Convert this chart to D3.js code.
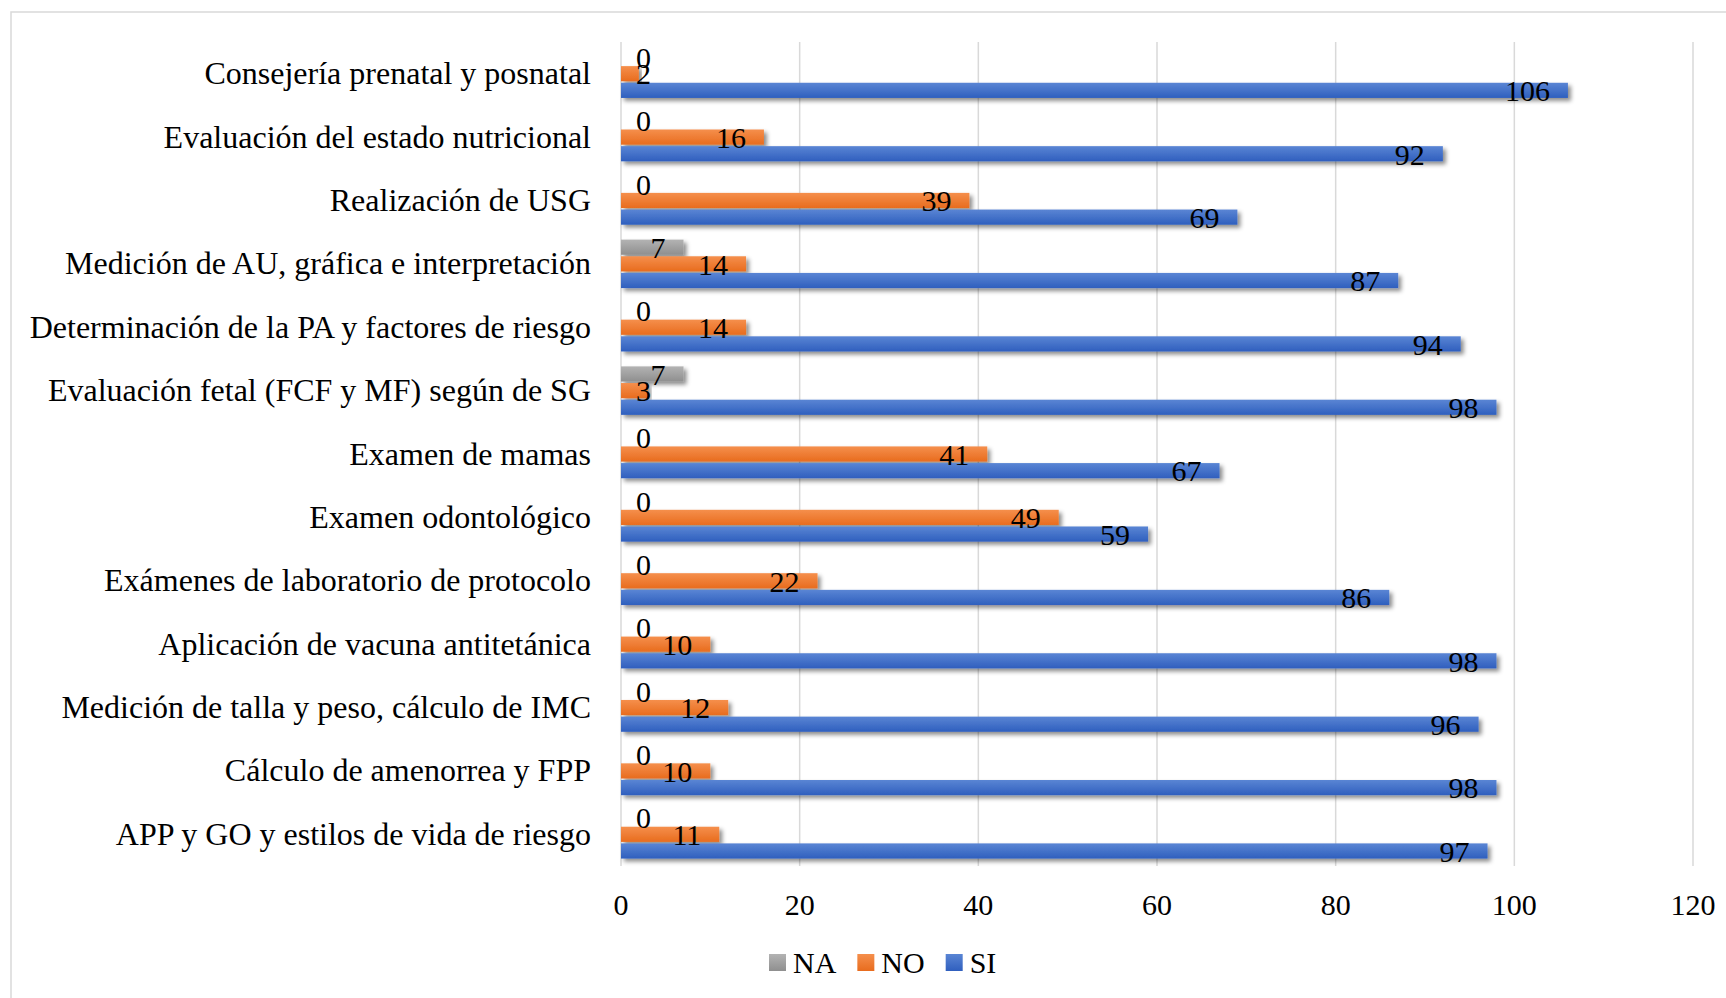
<!DOCTYPE html>
<html>
<head>
<meta charset="utf-8">
<script src="https://cdn.jsdelivr.net/npm/d3@7"></script>
<style>
  body { margin: 0; background: #fff; }
  svg text { font-family: "Liberation Serif", "Times New Roman", serif; fill: #000; }
</style>
</head>
<body>
<svg id="chart" width="1726" height="998"></svg>
<script>
const categories = [
  "Consejería prenatal y posnatal",
  "Evaluación del estado nutricional",
  "Realización de USG",
  "Medición de AU, gráfica e interpretación",
  "Determinación de la PA y factores de riesgo",
  "Evaluación fetal (FCF y MF) según de SG",
  "Examen de mamas",
  "Examen odontológico",
  "Exámenes de laboratorio de protocolo",
  "Aplicación de vacuna antitetánica",
  "Medición de talla y peso, cálculo de IMC",
  "Cálculo de amenorrea y FPP",
  "APP y GO y estilos de vida de riesgo"
];
const seriesNames = ["NA", "NO", "SI"];
const naValues = [0, 0, 0, 7, 0, 7, 0, 0, 0, 0, 0, 0, 0];
const noValues = [2, 16, 39, 14, 14, 3, 41, 49, 22, 10, 12, 10, 11];
const siValues = [106, 92, 69, 87, 94, 98, 67, 59, 86, 98, 96, 98, 97];
const xTicks = [0, 20, 40, 60, 80, 100, 120];

const seriesValues = { NA: naValues, NO: noValues, SI: siValues };
// gradient stops: top colour, bottom colour
const colors = {
  NA: ["#b3b3b3", "#8f8f8f"],
  NO: ["#f58f4c", "#e86c1e"],
  SI: ["#5a85d4", "#2f5fbe"]
};

const svg = d3.select("#chart");
const defs = svg.append("defs");

seriesNames.forEach(s => {
  let g = defs.append("linearGradient")
    .attr("id", "grad-" + s)
    .attr("x1", 0).attr("y1", 0).attr("x2", 0).attr("y2", 1);
  g.append("stop").attr("offset", "0%").attr("stop-color", colors[s][0]);
  g.append("stop").attr("offset", "100%").attr("stop-color", colors[s][1]);
});

let shadow = defs.append("filter").attr("id", "shadow")
  .attr("x", "-5%").attr("y", "-40%").attr("width", "120%").attr("height", "200%");
shadow.append("feDropShadow")
  .attr("dx", 3).attr("dy", 3).attr("stdDeviation", 2.2)
  .attr("flood-color", "#000").attr("flood-opacity", 0.45);

// chart border
svg.append("rect")
  .attr("x", 11).attr("y", 12)
  .attr("width", 1730).attr("height", 1000)
  .attr("fill", "none")
  .attr("stroke", "#d9d9d9")
  .attr("stroke-width", 1.5);

const plot = { left: 621, right: 1693, top: 42, bottom: 866 };

let x = d3.scaleLinear().domain([0, 120]).range([plot.left, plot.right]);

let y0 = d3.scaleBand()
  .domain(categories)
  .range([plot.top, plot.bottom])
  .paddingInner(0.235)
  .paddingOuter(0.1175);

let y1 = d3.scaleBand()
  .domain(seriesNames)
  .range([0, y0.bandwidth()])
  .paddingInner(0.09);

// gridlines
svg.append("g")
  .selectAll("line")
  .data(xTicks)
  .join("line")
  .attr("x1", d => x(d)).attr("x2", d => x(d))
  .attr("y1", plot.top).attr("y2", plot.bottom)
  .attr("stroke", "#d9d9d9")
  .attr("stroke-width", 1.5);

// x axis tick labels
svg.append("g")
  .selectAll("text")
  .data(xTicks)
  .join("text")
  .attr("x", d => x(d))
  .attr("y", 915)
  .attr("text-anchor", "middle")
  .style("font-size", "30px")
  .text(d => d);

// category labels
svg.append("g")
  .selectAll("text")
  .data(categories)
  .join("text")
  .attr("x", 591)
  .attr("y", d => y0(d) + y0.bandwidth() / 2)
  .attr("dy", "0.33em")
  .attr("text-anchor", "end")
  .style("font-size", "32px")
  .text(d => d);

let barData = [];
categories.forEach((c, i) => {
  seriesNames.forEach(s => {
    barData.push({ cat: c, series: s, value: seriesValues[s][i] });
  });
});

// bars
svg.append("g")
  .selectAll("rect")
  .data(barData.filter(d => d.value > 0))
  .join("rect")
  .attr("x", x(0))
  .attr("y", d => y0(d.cat) + y1(d.series))
  .attr("width", d => x(d.value) - x(0))
  .attr("height", y1.bandwidth())
  .attr("fill", d => "url(#grad-" + d.series + ")")
  .attr("filter", "url(#shadow)");

// data labels (inside end, clamped near the axis for short bars)
let labels = svg.append("g")
  .selectAll("text")
  .data(barData)
  .join("text")
  .attr("y", d => y0(d.cat) + y1(d.series) + y1.bandwidth() / 2)
  .attr("dy", "0.36em")
  .attr("text-anchor", "start")
  .style("font-size", "30px")
  .text(d => d.value);

labels.each(function(d) {
  let w = this.getComputedTextLength();
  let left = x(d.value) - 18 - w;
  let minLeft = x(0) + 15;
  d3.select(this).attr("x", Math.max(left, minLeft));
});

// legend
let legend = svg.append("g").attr("transform", "translate(769,954)");
let lx = 0;
seriesNames.forEach(s => {
  legend.append("rect")
    .attr("x", lx).attr("y", 0)
    .attr("width", 17).attr("height", 17)
    .attr("fill", "url(#grad-" + s + ")");
  let t = legend.append("text")
    .attr("x", lx + 24)
    .attr("y", 19)
    .style("font-size", "30px")
    .text(s);
  lx += 24 + t.node().getComputedTextLength() + 21;
});
</script>
</body>
</html>
